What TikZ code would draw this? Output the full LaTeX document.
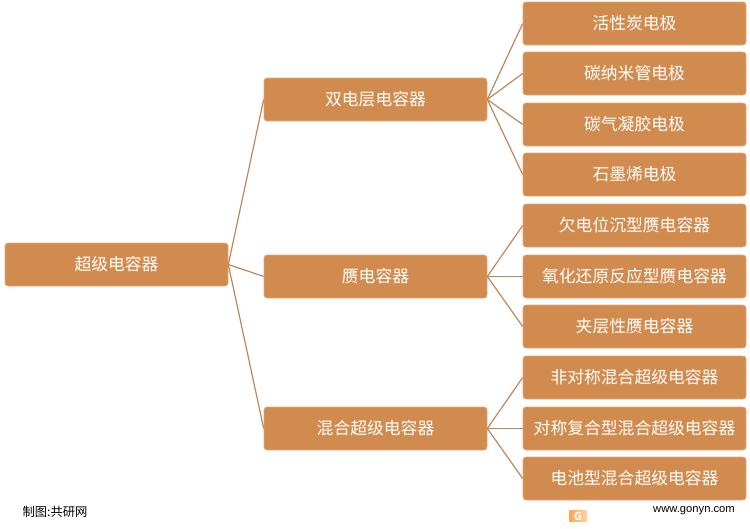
\documentclass[tikz,border=0pt]{standalone}
\usepackage{fontspec}
\setmainfont{Noto Sans CJK SC}
\newfontfamily\latinfont{Liberation Sans}
\definecolor{boxfill}{HTML}{D28B4E}
\definecolor{boxline}{HTML}{DDA878}
\definecolor{linkline}{HTML}{C0875A}
\tikzset{
  itembox/.style={draw=boxline,fill=boxfill,rounded corners=3pt,line width=0.6pt,
    minimum width=223pt,minimum height=43pt,inner sep=0pt,text=white,
    font=\fontsize{16.8}{20}\selectfont},
  link/.style={draw=linkline,line width=1.2pt},
  every node/.append style={anchor=center}
}
\begin{document}
\begin{tikzpicture}[x=1pt,y=-1pt]
\useasboundingbox (0,0) rectangle (750,528);
\node[itembox] (root) at (116.5,264.5) {超级电容器};
\node[itembox] (edl) at (375.5,99.5) {双电层电容器};
\node[itembox] (pseudo) at (375.5,276.5) {赝电容器};
\node[itembox] (hybrid) at (375.5,428.5) {混合超级电容器};
\node[itembox] (active) at (634.5,23.5) {活性炭电极};
\node[itembox] (tube) at (634.5,73.5) {碳纳米管电极};
\node[itembox] (gel) at (634.5,124.5) {碳气凝胶电极};
\node[itembox] (graphene) at (634.5,174.5) {石墨烯电极};
\node[itembox] (upd) at (634.5,225.5) {欠电位沉型赝电容器};
\node[itembox] (redox) at (634.5,276.5) {氧化还原反应型赝电容器};
\node[itembox] (layer) at (634.5,326.5) {夹层性赝电容器};
\node[itembox] (asym) at (634.5,377.5) {非对称混合超级电容器};
\node[itembox] (sym) at (634.5,428.5) {对称复合型混合超级电容器};
\node[itembox] (battery) at (634.5,478.5) {电池型混合超级电容器};
\draw[link] (root.east) -- (edl.west);
\draw[link] (root.east) -- (pseudo.west);
\draw[link] (root.east) -- (hybrid.west);
\draw[link] (edl.east) -- (active.west);
\draw[link] (edl.east) -- (tube.west);
\draw[link] (edl.east) -- (gel.west);
\draw[link] (edl.east) -- (graphene.west);
\draw[link] (pseudo.east) -- (upd.west);
\draw[link] (pseudo.east) -- (redox.west);
\draw[link] (pseudo.east) -- (layer.west);
\draw[link] (hybrid.east) -- (asym.west);
\draw[link] (hybrid.east) -- (sym.west);
\draw[link] (hybrid.east) -- (battery.west);
\node[font=\fontsize{12.3}{14}\selectfont] (source) at (55,511.5) {制图:共研网};
\node[font=\fontsize{11.2}{14}\selectfont\latinfont] (site) at (694,511) {www.gonyn.com};
\node[shade,left color=orange!70,right color=orange!35,text=white,rounded corners=1pt,inner sep=0pt,minimum width=18pt,minimum height=12pt,font=\fontsize{11}{12}\selectfont\bfseries] (logo) at (578,516) {G};
\end{tikzpicture}
\end{document}
